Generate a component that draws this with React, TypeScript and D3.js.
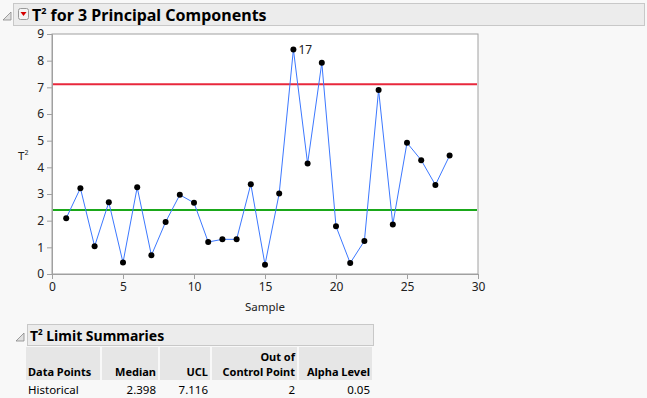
import React, { useEffect, useRef } from "react";
import * as d3 from "d3";

// T² values for samples 1..28
const samples = [
  1, 2, 3, 4, 5, 6, 7, 8, 9, 10, 11, 12, 13, 14, 15, 16, 17, 18, 19, 20, 21, 22,
  23, 24, 25, 26, 27, 28,
];
const t2Values = [
  2.09, 3.22, 1.04, 2.69, 0.43, 3.25, 0.7, 1.95, 2.97, 2.67, 1.2, 1.3, 1.3,
  3.37, 0.35, 3.02, 8.42, 4.14, 7.92, 1.79, 0.41, 1.24, 6.9, 1.86, 4.92, 4.27,
  3.34, 4.44,
];
const median = 2.398;
const ucl = 7.116;
const labelled = [17];
const xTicks = [0, 5, 10, 15, 20, 25, 30];
const yTicks = [0, 1, 2, 3, 4, 5, 6, 7, 8, 9];

const tableHeaders = ["Data Points", "Median", "UCL", "Out of|Control Point", "Alpha Level"];
const tableRow = ["Historical", "2.398", "7.116", "2", "0.05"];

const FONT = "'Noto Sans', 'Open Sans', sans-serif";

const App = () => {
  const ref = useRef<SVGSVGElement>(null);

  useEffect(() => {
    const svg = d3.select(ref.current);
    svg.selectAll("*").remove();

    svg.append("rect").attr("width", 647).attr("height", 398).attr("fill", "#f8f8f8");

    // outline header
    const disclosure = (x: number, y: number) => {
      svg.append("path")
        .attr("d", `M${x},${y + 8} L${x + 8},${y} L${x + 8},${y + 8} Z`)
        .attr("fill", "#e0e0e0")
        .attr("stroke", "#888")
        .attr("stroke-width", 0.8);
    };
    disclosure(3, 12);
    svg.append("rect")
      .attr("x", 13.5).attr("y", 3.5).attr("width", 631).attr("height", 22)
      .attr("fill", "#ececec").attr("stroke", "#c8c8c8");
    svg.append("rect")
      .attr("x", 18.5).attr("y", 8.5).attr("width", 10).attr("height", 11).attr("rx", 2)
      .attr("fill", "#f4f4f4").attr("stroke", "#999");
    svg.append("path").attr("d", "M20.5,12 L26.5,12 L23.5,16 Z").attr("fill", "#d40000");
    const title = svg.append("text")
      .attr("x", 32).attr("y", 21)
      .attr("font-family", FONT).attr("font-weight", "bold").attr("font-size", 16)
      .attr("fill", "#000");
    title.append("tspan").text("T");
    title.append("tspan").attr("font-size", 9).attr("dy", -7).text("2");
    title.append("tspan").attr("dy", 7).text(" for 3 Principal Components");

    // plot
    const left = 52, right = 478, top = 34, bottom = 274;
    const x = d3.scaleLinear().domain([0, 30]).range([left, right]);
    const y = d3.scaleLinear().domain([0, 9]).range([bottom, top]);

    svg.append("rect")
      .attr("x", left).attr("y", top).attr("width", right - left).attr("height", bottom - top)
      .attr("fill", "#fff").attr("stroke", "#a0a0a0");

    const gx = svg.append("g").attr("transform", `translate(0,${bottom})`)
      .call(d3.axisBottom(x).tickValues(xTicks).tickSize(5).tickPadding(3));
    const gy = svg.append("g").attr("transform", `translate(${left},0)`)
      .call(d3.axisLeft(y).tickValues(yTicks).tickSize(5).tickPadding(3));
    [gx, gy].forEach((g) => {
      g.select(".domain").attr("stroke", "#a0a0a0");
      g.selectAll(".tick line").attr("stroke", "#a0a0a0");
      g.selectAll(".tick text").attr("font-family", FONT).attr("font-size", 12).attr("fill", "#222");
    });

    svg.append("text")
      .attr("x", (left + right) / 2).attr("y", 311).attr("text-anchor", "middle")
      .attr("font-family", FONT).attr("font-size", 11.5).attr("fill", "#222").text("Sample");
    const yl = svg.append("text").attr("x", 18).attr("y", 160)
      .attr("font-family", FONT).attr("font-size", 11.5).attr("fill", "#222");
    yl.append("tspan").text("T");
    yl.append("tspan").attr("font-size", 7).attr("dy", -5).text("2");

    svg.append("line")
      .attr("x1", left + 1).attr("x2", right - 1).attr("y1", y(ucl)).attr("y2", y(ucl))
      .attr("stroke", "#e8283c").attr("stroke-width", 2);
    svg.append("line")
      .attr("x1", left + 1).attr("x2", right - 1).attr("y1", y(median)).attr("y2", y(median))
      .attr("stroke", "#1aa81a").attr("stroke-width", 2);

    const pts = samples.map((s, i) => [s, t2Values[i]] as [number, number]);
    svg.append("path").datum(pts)
      .attr("d", d3.line<[number, number]>().x((d) => x(d[0])).y((d) => y(d[1])))
      .attr("fill", "none").attr("stroke", "#3c78ff").attr("stroke-width", 1);
    svg.selectAll("circle.pt").data(pts).enter().append("circle")
      .attr("cx", (d) => x(d[0])).attr("cy", (d) => y(d[1])).attr("r", 3).attr("fill", "#000");
    svg.selectAll("text.lab").data(pts.filter((d) => labelled.includes(d[0]))).enter()
      .append("text")
      .attr("x", (d) => x(d[0]) + 5).attr("y", (d) => y(d[1]) + 5)
      .attr("font-family", FONT).attr("font-size", 12).attr("fill", "#222")
      .text((d) => String(d[0]));

    // table
    disclosure(16, 333);
    svg.append("rect")
      .attr("x", 27.5).attr("y", 324.5).attr("width", 346).attr("height", 21)
      .attr("fill", "#ececec").attr("stroke", "#c8c8c8");
    const t2 = svg.append("text").attr("x", 30).attr("y", 341)
      .attr("font-family", FONT).attr("font-weight", "bold").attr("font-size", 14);
    t2.append("tspan").text("T");
    t2.append("tspan").attr("font-size", 8).attr("dy", -6).text("2");
    t2.append("tspan").attr("dy", 6).text(" Limit Summaries");

    const colEdges = [25, 101, 159, 211, 298, 373];
    tableHeaders.forEach((h, i) => {
      const x0 = colEdges[i] + 1, x1 = colEdges[i + 1];
      svg.append("rect").attr("x", x0).attr("y", 347).attr("width", x1 - x0 - 1).attr("height", 33)
        .attr("fill", "#e6e6e6");
      const lines = h.split("|");
      const anchor = i === 0 ? "start" : "end";
      const tx = i === 0 ? x0 + 2 : x1 - 3;
      lines.forEach((ln, j) => {
        svg.append("text")
          .attr("x", tx).attr("y", 376 - (lines.length - 1 - j) * 15)
          .attr("text-anchor", anchor)
          .attr("font-family", FONT).attr("font-weight", "bold").attr("font-size", 11)
          .attr("fill", "#000").text(ln);
      });
      svg.append("text")
        .attr("x", tx).attr("y", 394).attr("text-anchor", anchor)
        .attr("font-family", FONT).attr("font-size", 11.5).attr("fill", "#000")
        .text(tableRow[i]);
    });
  }, []);

  return (
    <svg ref={ref} width={647} height={398}
      style={{ position: "absolute", left: 0, top: 0, display: "block" }} />
  );
};

export default App;
